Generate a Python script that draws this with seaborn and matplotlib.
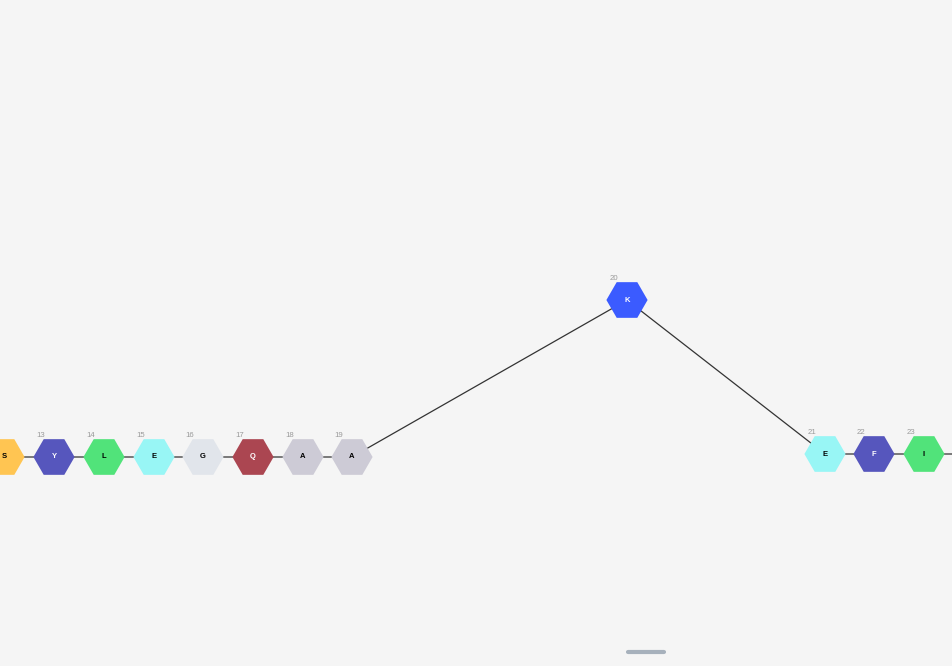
import numpy as np
import pandas as pd
import matplotlib
matplotlib.use("Agg")
import matplotlib.pyplot as plt
import seaborn as sns

# residues shown in the view (12..23), laid out as a chain
res_num = [12, 13, 14, 15, 16, 17, 18, 19, 20, 21, 22, 23]
res_aa = ["S", "Y", "L", "E", "G", "Q", "A", "A", "K", "E", "F", "I"]
res_x = [4, 54, 104, 154, 203, 253, 303, 352, 627, 825, 874, 924]
res_y = [457, 457, 457, 457, 457, 457, 457, 457, 300, 454, 454, 454]
# chain continues to residue 24, just past the right edge
next_x, next_y = 974, 454

aa_colors = {
    "S": "#FFC552", "Y": "#5656BD", "L": "#51E37A", "E": "#98F6F5",
    "G": "#E1E5EB", "Q": "#AB4651", "A": "#CDCBD6", "K": "#3B5BFF",
    "F": "#5656BD", "I": "#51E37A",
}
dark_aa = {"Y", "Q", "K", "F"}

df = pd.DataFrame({"num": res_num, "aa": res_aa, "x": res_x, "y": res_y})
chain = pd.DataFrame({"x": res_x + [next_x], "y": res_y + [next_y]})

sns.set_theme(style="white")
plt.rcParams["font.family"] = ["Liberation Sans", "DejaVu Sans"]

fig = plt.figure(figsize=(9.52, 6.66), dpi=100)
fig.patch.set_facecolor("#f5f5f5")
ax = fig.add_axes([0, 0, 1, 1])
ax.set_facecolor("#f5f5f5")

# backbone links
sns.lineplot(data=chain, x="x", y="y", sort=False, estimator=None,
             color="#333333", linewidth=0.9, ax=ax, zorder=1)

# residue hexagons
sns.scatterplot(data=df, x="x", y="y", hue="aa", palette=aa_colors,
                marker="H", s=880, linewidth=0, legend=False, ax=ax, zorder=3)

for _, r in df.iterrows():
    ax.text(r.x, r.y, r.aa, ha="center", va="center", fontsize=5.5,
            fontweight="bold", color="white" if r.aa in dark_aa else "black",
            zorder=4)
    # number sits up-left of the hexagon; skip the one scrolled out of view
    if r.x - 13 > 8:
        ax.text(r.x - 13, r.y - 21.5, str(r.num), ha="center", va="center",
                fontsize=5.6, color="#9a9a9a", zorder=4)

# scroll handle at the bottom
ax.plot([628, 664], [652, 652], color="#A7B1BC", linewidth=3.0,
        solid_capstyle="round", zorder=5)

ax.set_xlim(0, 952)
ax.set_ylim(666, 0)
ax.set_axis_off()

fig.savefig("out.png", dpi=100, facecolor=fig.get_facecolor())
